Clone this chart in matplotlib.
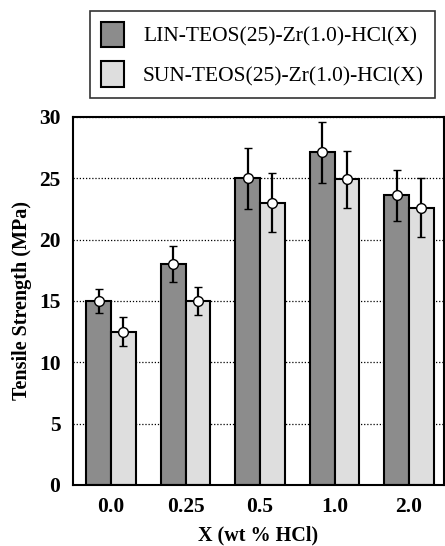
import matplotlib
matplotlib.use("Agg")
import matplotlib.pyplot as plt
import numpy as np

plt.rcParams["font.family"] = ["Liberation Serif", "DejaVu Serif"]

# ---- data ----
x_labels = ["0.0", "0.25", "0.5", "1.0", "2.0"]
lin_mean = [15.0, 18.0, 25.0, 27.1, 23.6]
lin_err = [1.0, 1.5, 2.5, 2.5, 2.1]
sun_mean = [12.5, 15.0, 23.0, 24.9, 22.6]
sun_err = [1.2, 1.15, 2.4, 2.3, 2.4]
series_names = ["LIN-TEOS(25)-Zr(1.0)-HCl(X)", "SUN-TEOS(25)-Zr(1.0)-HCl(X)"]

LIN_COLOR = "#8c8c8c"
SUN_COLOR = "#dedede"

fig = plt.figure(figsize=(4.45, 5.46), dpi=100)
ax = fig.add_axes([0.164, 0.112, 0.834, 0.674])

x = np.arange(len(x_labels))
w = 0.33
handles = []
for off, mean, err, col in ((-w / 2, lin_mean, lin_err, LIN_COLOR),
                            (w / 2, sun_mean, sun_err, SUN_COLOR)):
    bars = ax.bar(x + off, mean, width=w, color=col, edgecolor="black",
                  linewidth=1.5, zorder=2)
    handles.append(bars)
    ax.errorbar(x + off, mean, yerr=err, fmt="o", color="black",
                ecolor="black", elinewidth=1.6, capsize=3, capthick=1.6,
                markerfacecolor="white", markeredgecolor="black",
                markersize=7, markeredgewidth=1.0, zorder=3)

ax.set_xlim(-0.51, 4.47)
ax.set_ylim(0, 30)
ax.set_yticks([0, 5, 10, 15, 20, 25, 30])
ax.set_xticks(x)
ax.set_xticklabels(x_labels)
ax.tick_params(length=0, labelsize=15.5, pad=9)
for lab in ax.get_xticklabels() + ax.get_yticklabels():
    lab.set_fontweight("bold")
ax.yaxis.grid(True, linestyle=(0, (1, 1.5)), color="black", linewidth=0.9, zorder=0)
ax.set_axisbelow(True)
for sp in ax.spines.values():
    sp.set_linewidth(1.5)

ax.set_xlabel("X (wt % HCl)", fontsize=14.5, fontweight="bold", labelpad=6)
ax.set_ylabel("Tensile Strength (MPa)", fontsize=14.5, fontweight="bold", labelpad=5)

leg = fig.legend(handles, series_names, loc="upper center",
                 bbox_to_anchor=(0.59, 0.98), fontsize=15.5, frameon=True,
                 fancybox=False, edgecolor="black", handlelength=1.05,
                 handleheight=1.45, handletextpad=0.9, borderpad=0.5,
                 labelspacing=0.65, borderaxespad=0)
leg.get_frame().set_linewidth(1.2)

fig.savefig("out.png", dpi=100)
